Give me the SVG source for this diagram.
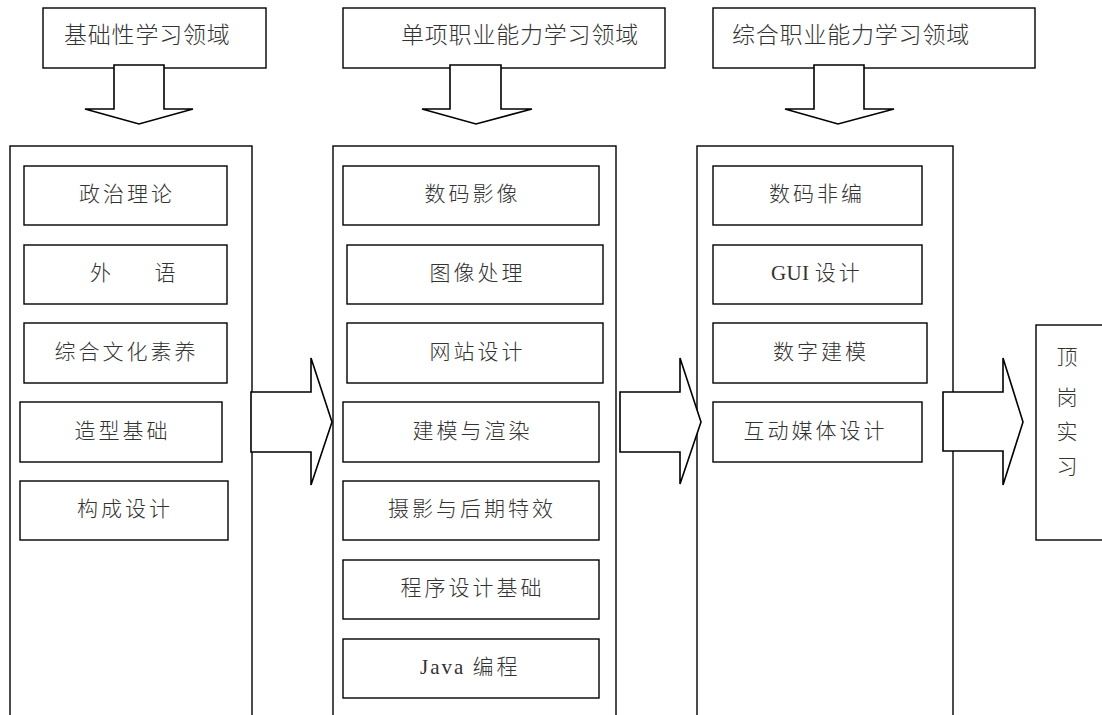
<svg xmlns="http://www.w3.org/2000/svg" width="1102" height="715" viewBox="0 0 1102 715">
<style>
.box{fill:#fff;stroke:#000;stroke-width:1.4}
.col{fill:none;stroke:#000;stroke-width:1.4}
.arr{fill:#fff;stroke:#000;stroke-width:1.6;stroke-linejoin:miter}
.hd{font-family:"Noto Sans CJK SC","Liberation Sans",sans-serif;font-size:23px;font-weight:300;fill:#333;letter-spacing:0.8px}
.lb{font-family:"Liberation Serif","Noto Sans CJK SC",serif;font-size:21px;font-weight:300;fill:#333;letter-spacing:3px;text-anchor:middle}
.lt{letter-spacing:2px}
.lg{letter-spacing:0.3px}
</style>
<rect width="1102" height="715" fill="#fff"/>
<g id="col1"><rect class="col" x="10" y="146" width="242" height="580"/></g>
<g id="col2"><rect class="col" x="333" y="146" width="283" height="580"/></g>
<g id="col3"><rect class="col" x="697" y="146" width="256" height="580"/></g>
<g id="h1"><rect class="box" x="43" y="8" width="223" height="60"/><text class="hd" x="64" y="42.5">基础性学习领域</text></g>
<g id="h2"><rect class="box" x="343" y="8" width="322" height="60"/><text class="hd" x="401" y="42.5">单项职业能力学习领域</text></g>
<g id="h3"><rect class="box" x="713" y="8" width="322" height="60"/><text class="hd" x="732" y="42.5" letter-spacing="1.6">综合职业能力学习领域</text></g>
<g id="c1n1"><rect class="box" x="24" y="166" width="203" height="59"/><text class="lb" x="127" y="201">政治理论</text></g>
<g id="c1n2"><rect class="box" x="24" y="245" width="203" height="59"/><text class="lb" x="90" y="280" style="text-anchor:start;letter-spacing:0.5px">外　　语</text></g>
<g id="c1n3"><rect class="box" x="24" y="323" width="203" height="60"/><text class="lb" x="126.5" y="358.5">综合文化素养</text></g>
<g id="c1n4"><rect class="box" x="20" y="402" width="202" height="60"/><text class="lb" x="122.5" y="437.5">造型基础</text></g>
<g id="c1n5"><rect class="box" x="20" y="481" width="208" height="59"/><text class="lb" x="125" y="516">构成设计</text></g>
<g id="c2n1"><rect class="box" x="343" y="166" width="256" height="59"/><text class="lb" x="472.5" y="201">数码影像</text></g>
<g id="c2n2"><rect class="box" x="347" y="245" width="256" height="59"/><text class="lb" x="477.5" y="280">图像处理</text></g>
<g id="c2n3"><rect class="box" x="347" y="323" width="256" height="60"/><text class="lb" x="477.5" y="358.5">网站设计</text></g>
<g id="c2n4"><rect class="box" x="343" y="402" width="256" height="60"/><text class="lb" x="472.5" y="437.5">建模与渲染</text></g>
<g id="c2n5"><rect class="box" x="343" y="481" width="256" height="59"/><text class="lb" x="472" y="516">摄影与后期特效</text></g>
<g id="c2n6"><rect class="box" x="343" y="560" width="256" height="59"/><text class="lb" x="472.5" y="595">程序设计基础</text></g>
<g id="c2n7"><rect class="box" x="343" y="639" width="256" height="59"/><text class="lb" x="420" y="674" style="text-anchor:start"><tspan class="lt">Java </tspan>编程</text></g>
<g id="c3n1"><rect class="box" x="713" y="166" width="209" height="59"/><text class="lb" x="817" y="201">数码非编</text></g>
<g id="c3n2"><rect class="box" x="713" y="245" width="209" height="59"/><text class="lb" x="771" y="280" style="text-anchor:start"><tspan class="lg">GUI </tspan>设计</text></g>
<g id="c3n3"><rect class="box" x="713" y="323" width="214" height="60"/><text class="lb" x="821" y="358.5">数字建模</text></g>
<g id="c3n4"><rect class="box" x="713" y="402" width="209" height="60"/><text class="lb" x="815.5" y="437.5">互动媒体设计</text></g>
<g id="intern"><rect class="box" x="1036" y="325" width="80" height="215"/><text class="lb" style="letter-spacing:0"><tspan x="1067" y="364">顶</tspan><tspan x="1067" y="405">岗</tspan><tspan x="1067" y="439">实</tspan><tspan x="1067" y="474">习</tspan></text></g>
<g id="connectors">
<polygon class="arr" points="114,65 164,65 164,109 193,109 139,124 85,109 114,109"/>
<polygon class="arr" points="450,65 501,65 501,109 532,109 476,124 422,109 450,109"/>
<polygon class="arr" points="814,65 864,65 864,109 894,109 838,124 785,109 814,109"/>
<polygon class="arr" points="251,392 311,392 311,358 332,422 311,485 311,452 251,452"/>
<polygon class="arr" points="620,392 680,392 680,358 701,422 680,484 680,452 620,452"/>
<polygon class="arr" points="943,392 1003,392 1003,358 1023,422 1003,485 1003,451 943,451"/>
</g>
</svg>
